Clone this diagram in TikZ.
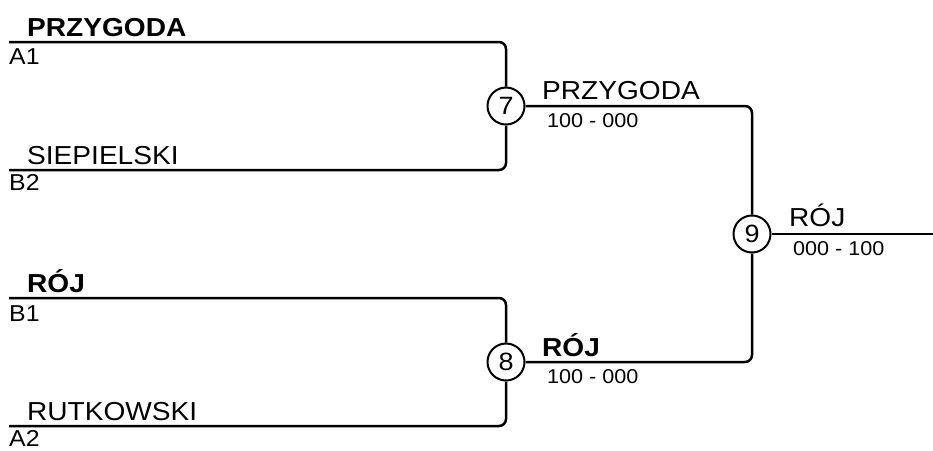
\documentclass[tikz,border=0pt]{standalone}
\usepackage{fontspec}
\setmainfont{Liberation Sans}[FakeStretch=1.08]
\usetikzlibrary{positioning}
\begin{document}
\begin{tikzpicture}[
    x=1pt, y=-1pt,
    bracket/.style={line width=2.5pt, rounded corners=7pt},
    game/.style={draw, circle, line width=2pt, minimum size=37pt, inner sep=0pt, font=\fontsize{25}{25}\selectfont},
    player/.style={anchor=base west, inner sep=0pt, font=\fontsize{26}{30}\selectfont},
    winner/.style={player, font=\fontsize{26}{30}\selectfont\bfseries},
    slot/.style={anchor=base west, inner sep=0pt, font=\fontsize{23}{26}\selectfont},
    result/.style={anchor=base west, inner sep=0pt, font=\fontsize{20}{24}\selectfont},
  ]
  \useasboundingbox (0,0) rectangle (933,450);
  % entry lines
  \coordinate (p1) at (9,42);
  \coordinate (p2) at (9,170);
  \coordinate (p3) at (9,298);
  \coordinate (p4) at (9,426);
  \coordinate (out) at (933,234);
  % games
  \node[game] (g7) at (506,106) {7};
  \node[game] (g8) at (506,362) {8};
  \node[game] (g9) at (752,234) {9};
  % connectors
  \draw[bracket] (p1) -| (g7);
  \draw[bracket] (p2) -| (g7);
  \draw[bracket] (p3) -| (g8);
  \draw[bracket] (p4) -| (g8);
  \draw[bracket] (g7) -| (g9);
  \draw[bracket] (g8) -| (g9);
  \draw[bracket] (g9) -- (out);
  % first round
  \node[winner] (n1) at (27,36)  {PRZYGODA};
  \node[slot]   (s1) at (9,64)   {A1};
  \node[player] (n2) at (27,164) {SIEPIELSKI};
  \node[slot]   (s2) at (9,190)  {B2};
  \node[winner] (n3) at (27,292) {RÓJ};
  \node[slot]   (s3) at (9,321)  {B1};
  \node[player] (n4) at (27,420) {RUTKOWSKI};
  \node[slot]   (s4) at (9,446)  {A2};
  % later rounds
  \node[player] (w7) at (542,99)  {PRZYGODA};
  \node[result] (r7) at (547,127) {100 - 000};
  \node[winner] (w8) at (542,356) {RÓJ};
  \node[result] (r8) at (547,383) {100 - 000};
  \node[player] (w9) at (789,226) {RÓJ};
  \node[result] (r9) at (793,255) {000 - 100};
\end{tikzpicture}
\end{document}
